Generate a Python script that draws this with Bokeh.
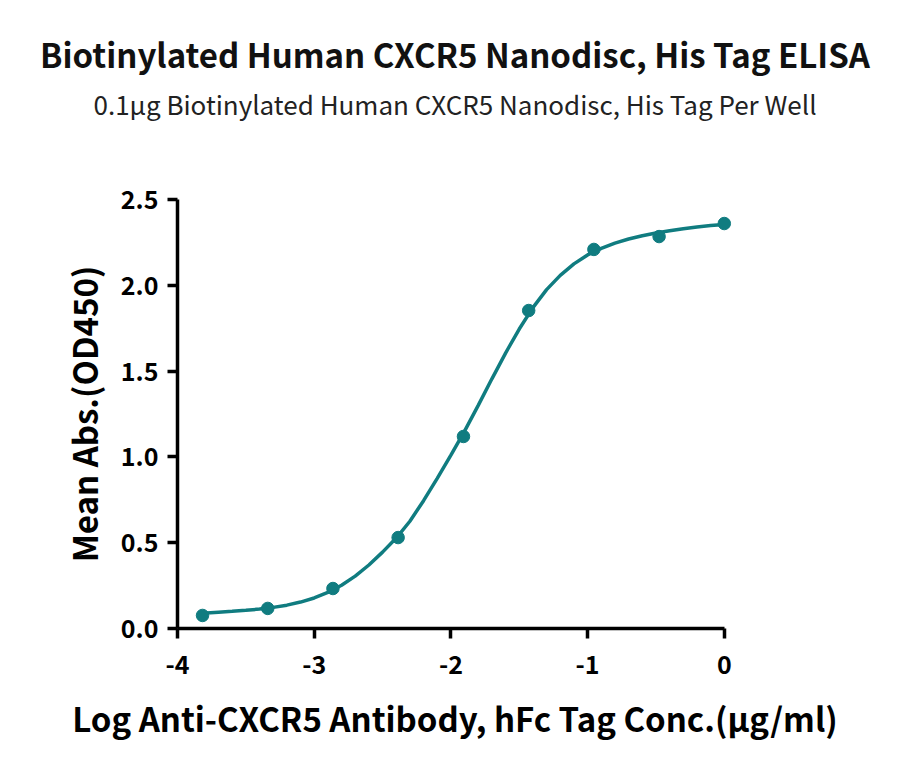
from bokeh.plotting import figure
from bokeh.models import Range1d, Title, FixedTicker, NumeralTickFormatter
from bokeh.embed import file_html
from bokeh.resources import INLINE

# Measured points (log conc. vs mean OD450)
log_conc = [-3.817, -3.340, -2.863, -2.386, -1.908, -1.431, -0.954, -0.477, 0.0]
mean_abs = [0.076, 0.117, 0.233, 0.530, 1.119, 1.853, 2.209, 2.284, 2.360]

# Fitted curve
curve_x = [-3.817, -3.7, -3.6, -3.5, -3.4, -3.3, -3.2, -3.1, -3.0, -2.9,
           -2.8, -2.7, -2.6, -2.5, -2.4, -2.3, -2.2, -2.1, -2.0, -1.9,
           -1.8, -1.7, -1.6, -1.5, -1.4, -1.3, -1.2, -1.1, -1.0, -0.9,
           -0.8, -0.7, -0.6, -0.5, -0.4, -0.3, -0.2, -0.1, 0.0]
curve_y = [0.089, 0.095, 0.100, 0.106, 0.113, 0.123, 0.136, 0.154, 0.178, 0.210,
           0.252, 0.305, 0.370, 0.445, 0.527, 0.625, 0.745, 0.875, 1.010, 1.150,
           1.300, 1.455, 1.605, 1.745, 1.870, 1.975, 2.058, 2.125, 2.177, 2.215,
           2.246, 2.270, 2.289, 2.305, 2.318, 2.330, 2.340, 2.348, 2.354]

x_ticks = [-4, -3, -2, -1, 0]
x_tick_labels = ["-4", "-3", "-2", "-1", "0"]
y_ticks = [0.0, 0.5, 1.0, 1.5, 2.0, 2.5]

FONT = "Noto Sans CJK SC"
TEAL = "#107C80"

p = figure(width=884, height=755, output_backend="svg", toolbar_location=None,
           x_range=Range1d(-4, 0.06), y_range=Range1d(0, 2.5),
           min_border_left=177, min_border_right=152, min_border_bottom=127,
           min_border_top=199)

# spacer between plot and subtitle
p.add_layout(Title(text=" ", text_font_size="10px", standoff=65), "above")
p.add_layout(Title(text="0.1µg Biotinylated Human CXCR5 Nanodisc, His Tag Per Well",
                   align="center", text_font=FONT, text_font_size="26px",
                   text_font_style="normal", text_color="#222222", standoff=0), "above")
p.add_layout(Title(text="Biotinylated Human CXCR5 Nanodisc, His Tag ELISA",
                   align="center", text_font=FONT, text_font_size="33px",
                   text_font_style="bold", text_color="#111111"), "above")

p.line(curve_x, curve_y, line_color=TEAL, line_width=3.5)
p.scatter(log_conc, mean_abs, size=12.5, color=TEAL)

p.xgrid.visible = False
p.ygrid.visible = False
p.outline_line_color = None

p.xaxis.bounds = (-4, 0)
p.xaxis.ticker = FixedTicker(ticks=x_ticks)
p.xaxis.major_label_overrides = dict(zip(x_ticks, x_tick_labels))
p.yaxis.ticker = FixedTicker(ticks=y_ticks)
p.yaxis.formatter = NumeralTickFormatter(format="0.0")

p.xaxis.axis_label = "Log Anti-CXCR5 Antibody, hFc Tag Conc.(µg/ml)"
p.yaxis.axis_label = "Mean Abs.(OD450)"

for ax in (p.xaxis[0], p.yaxis[0]):
    ax.axis_line_width = 3.5
    ax.axis_line_color = "black"
    ax.major_tick_line_width = 3.5
    ax.major_tick_line_color = "black"
    ax.major_tick_out = 10
    ax.major_tick_in = 0
    ax.minor_tick_line_color = None
    ax.major_label_text_font = FONT
    ax.major_label_text_font_size = "25px"
    ax.major_label_text_font_style = "bold"
    ax.major_label_text_color = "black"
    ax.axis_label_text_font = FONT
    ax.axis_label_text_font_size = "33px"
    ax.axis_label_text_font_style = "bold"
    ax.axis_label_text_color = "black"

p.xaxis.major_label_standoff = 16
p.yaxis.major_label_standoff = 9
p.xaxis.axis_label_standoff = 17
p.yaxis.axis_label_standoff = 10

open("out.html", "w").write(file_html(p, INLINE))
